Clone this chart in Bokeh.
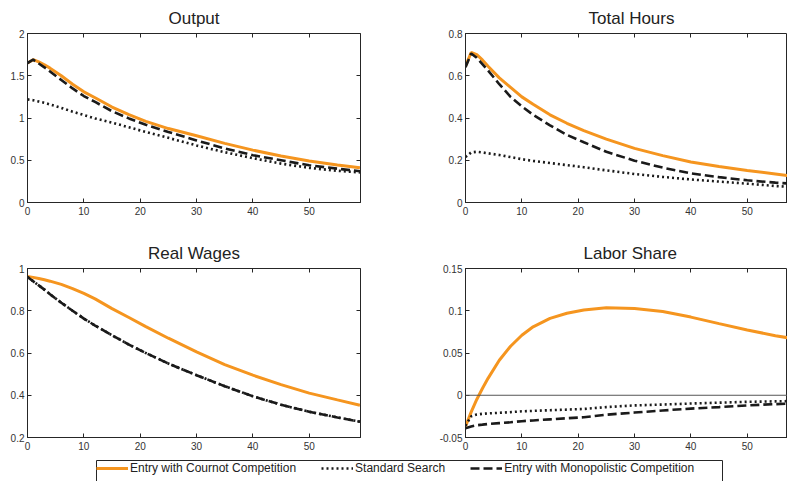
from bokeh.plotting import figure
from bokeh.models import (Range1d, FixedTicker, NumeralTickFormatter, LinearAxis, Span,
                          Legend, LegendItem, CustomJSTickFormatter)
from bokeh.layouts import column, row
from bokeh.embed import file_html
from bokeh.resources import INLINE

# ---------------- data ----------------
periods = [0, 1, 2, 3, 4, 6, 8, 10, 12, 15, 18, 21, 25, 30, 35, 40, 45, 50, 55, 59]

output_cournot = [1.65, 1.69, 1.665, 1.63, 1.59, 1.50, 1.40, 1.31, 1.24, 1.13, 1.04, 0.96,
                  0.875, 0.79, 0.70, 0.62, 0.55, 0.49, 0.445, 0.41]
output_search = [1.22, 1.21, 1.195, 1.18, 1.16, 1.12, 1.075, 1.035, 0.995, 0.945, 0.89, 0.835,
                 0.765, 0.675, 0.595, 0.525, 0.46, 0.41, 0.375, 0.355]
output_monop = [1.65, 1.69, 1.645, 1.60, 1.55, 1.45, 1.35, 1.26, 1.19, 1.08, 0.995, 0.92,
                0.835, 0.735, 0.64, 0.56, 0.50, 0.44, 0.40, 0.37]

hours_cournot = [0.645, 0.71, 0.70, 0.675, 0.645, 0.59, 0.545, 0.50, 0.465, 0.415, 0.375, 0.34,
                 0.30, 0.256, 0.222, 0.192, 0.17, 0.152, 0.135, 0.121]
hours_search = [0.215, 0.237, 0.24, 0.237, 0.233, 0.225, 0.215, 0.205, 0.197, 0.187, 0.177, 0.167,
                0.152, 0.135, 0.121, 0.109, 0.099, 0.089, 0.078, 0.072]
hours_monop = [0.64, 0.705, 0.685, 0.655, 0.625, 0.56, 0.50, 0.455, 0.415, 0.365, 0.32, 0.285,
               0.24, 0.198, 0.165, 0.138, 0.12, 0.105, 0.094, 0.087]

wages_cournot = [0.962, 0.958, 0.953, 0.947, 0.94, 0.925, 0.905, 0.882, 0.856, 0.81, 0.768, 0.725,
                 0.67, 0.605, 0.545, 0.495, 0.45, 0.41, 0.378, 0.353]
wages_search = [0.96, 0.94, 0.92, 0.90, 0.878, 0.838, 0.80, 0.763, 0.73, 0.684, 0.64, 0.60,
                0.55, 0.495, 0.443, 0.395, 0.355, 0.322, 0.295, 0.275]
wages_monop = [0.96, 0.94, 0.92, 0.90, 0.878, 0.838, 0.80, 0.763, 0.73, 0.684, 0.64, 0.60,
               0.55, 0.495, 0.443, 0.395, 0.355, 0.322, 0.295, 0.275]

share_cournot = [-0.037, -0.02, -0.005, 0.008, 0.02, 0.0415, 0.058, 0.071, 0.081, 0.091, 0.097, 0.101,
                 0.1035, 0.1027, 0.099, 0.0925, 0.0848, 0.0772, 0.0705, 0.066]
share_search = [-0.036, -0.025, -0.0228, -0.022, -0.0215, -0.0208, -0.020, -0.019, -0.0185, -0.0177,
                -0.017, -0.0162, -0.014, -0.012, -0.011, -0.0098, -0.0088, -0.0078, -0.0072, -0.0068]
share_monop = [-0.039, -0.037, -0.0355, -0.0348, -0.034, -0.033, -0.032, -0.0307, -0.0298, -0.0285,
               -0.0272, -0.026, -0.023, -0.0205, -0.018, -0.0158, -0.014, -0.012, -0.0105, -0.0097]

x_ticks = [0, 10, 20, 30, 40, 50]
output_ticks = [0, 0.5, 1, 1.5, 2]
hours_ticks = [0, 0.2, 0.4, 0.6, 0.8]
wages_ticks = [0.2, 0.4, 0.6, 0.8, 1]
share_ticks = [-0.05, 0, 0.05, 0.1, 0.15]

series_names = ["Entry with Cournot Competition", "Standard Search",
                "Entry with Monopolistic Competition"]
titles = ["Output", "Total Hours", "Real Wages", "Labor Share"]

# ---------------- styling ----------------
FONT = "Liberation Sans"
ORANGE = "#F5951F"
DARK = "#1a1a1a"
AXC = "#262626"
X_END_LEFT = 59.1
X_END_RIGHT = 57.15

styles = [
    dict(line_color=ORANGE, line_width=3),
    dict(line_color=DARK, line_width=2.6, line_dash="2 3"),
    dict(line_color=DARK, line_width=2.6, line_dash="9 4"),
]


def style_axis(ax, ticks, show_labels=True, standoff=4):
    ax.ticker = FixedTicker(ticks=ticks)
    ax.major_tick_in = 4
    ax.major_tick_out = 0
    ax.minor_tick_in = 0
    ax.minor_tick_out = 0
    ax.major_tick_line_color = AXC
    ax.axis_line_color = AXC
    ax.major_label_text_font = FONT
    ax.major_label_text_font_size = "10px"
    ax.major_label_text_color = "#333333"
    ax.major_label_standoff = standoff
    if show_labels:
        ax.formatter = NumeralTickFormatter(format="0.[00]")
    else:
        ax.formatter = CustomJSTickFormatter(code="return ''")
        ax.major_label_standoff = 0


def make_panel(title, y_range, yticks, series, x_end, left, right, top, bottom, width, height,
               right_axis=True, zero_line=False, title_offset=None):
    p = figure(width=width, height=height, x_range=Range1d(0, x_end), y_range=Range1d(*y_range),
               output_backend="svg", toolbar_location=None, title=title,
               min_border_left=left, min_border_right=right,
               min_border_top=top, min_border_bottom=bottom)
    p.grid.visible = False
    p.outline_line_color = AXC
    p.outline_line_width = 1
    p.background_fill_color = "white"
    p.border_fill_color = "white"
    if title_offset is None:
        p.title.align = "center"
    else:
        p.title.align = "left"
        p.title.offset = title_offset
    p.title.text_font = FONT
    p.title.text_font_size = "17px"
    p.title.text_font_style = "normal"
    p.title.text_color = "#222222"
    p.title.standoff = 12
    style_axis(p.xaxis[0], x_ticks, True, 4)
    style_axis(p.yaxis[0], yticks, True, 3)
    top_ax = LinearAxis()
    style_axis(top_ax, x_ticks, False)
    top_ax.axis_line_color = None
    p.add_layout(top_ax, "above")
    if right_axis:
        r_ax = LinearAxis()
        style_axis(r_ax, yticks, False)
        r_ax.axis_line_color = None
        p.add_layout(r_ax, "right")
    if zero_line:
        p.add_layout(Span(location=0, dimension="width", line_color="#555555", line_width=1))
    for ys, st in zip(series, styles):
        p.line(periods, ys, **st)
    return p


p1 = make_panel(titles[0], (0, 2), output_ticks, [output_cournot, output_search, output_monop],
                X_END_LEFT, 27, 40, 33, 33, 400, 235)
p2 = make_panel(titles[1], (0, 0.8), hours_ticks, [hours_cournot, hours_search, hours_monop],
                X_END_RIGHT, 65, 0, 33, 33, 387, 235, right_axis=False, title_offset=123)
p3 = make_panel(titles[2], (0.2, 1), wages_ticks, [wages_cournot, wages_search, wages_monop],
                X_END_LEFT, 27, 40, 33, 18, 400, 220)
p4 = make_panel(titles[3], (-0.05, 0.15), share_ticks, [share_cournot, share_search, share_monop],
                X_END_RIGHT, 65, 0, 33, 18, 387, 220, right_axis=False, zero_line=True,
                title_offset=118)

# ---------------- legend strip ----------------
# proxy renderers carry the real series but sit outside this strip's (empty) view
pl = figure(width=723, height=32, x_range=Range1d(-20, -10), y_range=Range1d(-20, -10),
            output_backend="svg", toolbar_location=None,
            x_axis_type=None, y_axis_type=None,
            min_border_left=96, min_border_right=1, min_border_top=5, min_border_bottom=0)
pl.grid.visible = False
pl.outline_line_color = AXC
pl.outline_line_width = 1
items = []
for name, ys, st in zip(series_names, [wages_cournot, wages_search, wages_monop], styles):
    r = pl.line(periods, ys, **st)
    items.append(LegendItem(label=name, renderers=[r]))
leg = Legend(items=items, orientation="horizontal", location="top_left",
             margin=0, padding=7, spacing=25, glyph_width=32, glyph_height=16,
             label_standoff=2, label_height=16,
             label_text_font=FONT, label_text_font_size="12px", label_text_color="#222222",
             border_line_color=None, background_fill_alpha=0)
leg.padding = 7
pl.add_layout(leg, "center")

layout = column(row(p1, p2), row(p3, p4), pl)

open("out.html", "w").write(file_html(layout, INLINE))
